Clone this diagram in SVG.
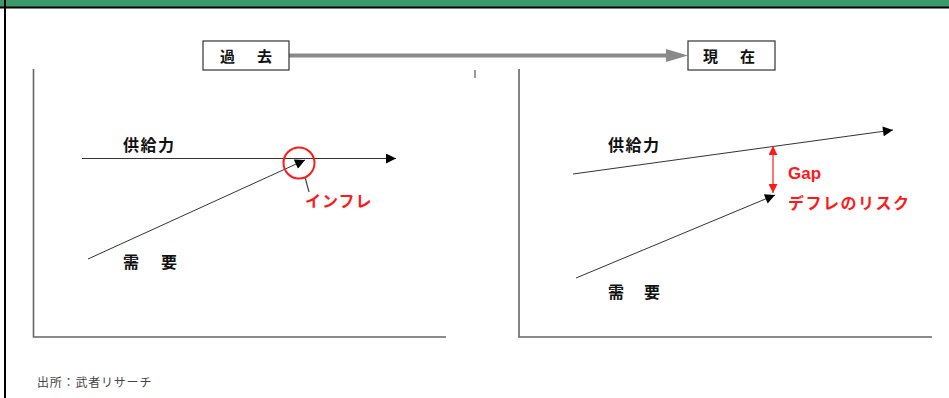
<svg xmlns="http://www.w3.org/2000/svg" width="949" height="398" viewBox="0 0 949 398">
<style>
.jp{font-family:"Noto Sans CJK JP","Noto Sans CJK SC",sans-serif;}
.lbl{font-size:16px;font-weight:bold;fill:#111;}
.red{font-size:16px;font-weight:bold;fill:#ff1a1a;}
.axis{stroke:#666;stroke-width:1.6;fill:none;}
.curve{stroke:#333;stroke-width:1;fill:none;}
.box{fill:#fff;stroke:#333;stroke-width:1.2;}
</style>
<defs>
<marker id="blk" viewBox="0 0 10 10" refX="10" refY="5" markerWidth="11" markerHeight="10" markerUnits="userSpaceOnUse" orient="auto"><path d="M0,0L10,5L0,10z" fill="#000"/></marker>
<marker id="redh" viewBox="0 0 10 10" refX="10" refY="5" markerWidth="9" markerHeight="9" markerUnits="userSpaceOnUse" orient="auto-start-reverse"><path d="M0,0L10,5L0,10z" fill="#ff1a1a"/></marker>
</defs>
<rect x="0" y="0" width="949" height="398" fill="#fff"/>
<rect x="0" y="0" width="949" height="7" fill="#3a9a6a"/>
<rect x="0" y="6.5" width="949" height="2" fill="#000"/>
<rect x="4" y="0" width="2" height="398" fill="#000"/>

<g id="connectors">
<line x1="289" y1="55.5" x2="668" y2="55.5" stroke="#8a8a8a" stroke-width="4"/>
<path d="M666,49 L688,55.5 L666,62 z" fill="#8a8a8a"/>
<line x1="475" y1="70" x2="475" y2="78" stroke="#333" stroke-width="1"/>
<!-- left chart -->
<line class="curve" x1="82" y1="158.5" x2="396" y2="158.5" stroke="#777" marker-end="url(#blk)"/>
<line class="curve" x1="88" y1="259" x2="305" y2="160" stroke="#444" marker-end="url(#blk)"/>
<line x1="305" y1="177" x2="309" y2="192" stroke="#444" stroke-width="1.2"/>
<!-- right chart -->
<line class="curve" x1="573" y1="174" x2="893" y2="130" marker-end="url(#blk)"/>
<line class="curve" x1="576" y1="278" x2="775" y2="195" marker-end="url(#blk)"/>
<line x1="773" y1="146" x2="773" y2="193" stroke="#ff1a1a" stroke-width="1.2" marker-start="url(#redh)" marker-end="url(#redh)"/>
</g>

<g id="box-past">
<rect class="box" x="203" y="41" width="86" height="29"/>
<text class="jp" x="220" y="62" font-size="15" font-weight="bold" fill="#111">過</text>
<text class="jp" x="257" y="62" font-size="15" font-weight="bold" fill="#111">去</text>
</g>
<g id="box-present">
<rect class="box" x="688" y="41" width="87" height="29"/>
<text class="jp" x="703" y="62" font-size="15" font-weight="bold" fill="#111">現</text>
<text class="jp" x="740" y="62" font-size="15" font-weight="bold" fill="#111">在</text>
</g>

<g id="chart-past">
<polyline class="axis" points="33.5,69 33.5,337 446,337"/>
<text class="jp lbl" x="123" y="151" letter-spacing="1.5">供給力</text>
<text class="jp lbl" x="123" y="268">需</text>
<text class="jp lbl" x="161" y="268">要</text>
<circle cx="299" cy="163" r="15.5" fill="none" stroke="#ff1a1a" stroke-width="2"/>
<text class="jp red" x="305" y="207" letter-spacing="1">インフレ</text>
</g>

<g id="chart-present">
<polyline class="axis" points="519,69 519,337 932,337"/>
<text class="jp lbl" x="608" y="151" letter-spacing="1.5">供給力</text>
<text class="jp lbl" x="608" y="298">需</text>
<text class="jp lbl" x="644" y="298">要</text>
<text x="788" y="179" font-family="Liberation Sans, Arial, sans-serif" font-size="17" font-weight="bold" fill="#ff1a1a">Gap</text>
<text class="jp red" x="788" y="209" letter-spacing="1.5">デフレのリスク</text>
</g>

<g id="source">
<text class="jp" x="37" y="387" font-size="12" fill="#444" letter-spacing="0.8">出所：武者リサーチ</text>
</g>
</svg>
